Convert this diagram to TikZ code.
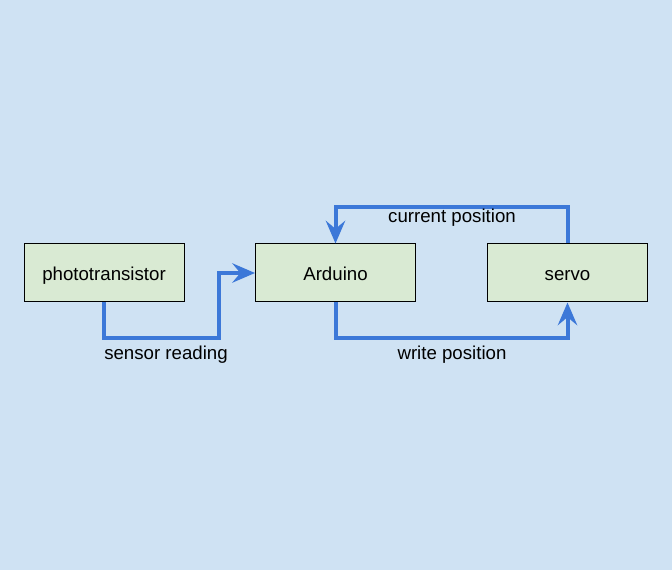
\documentclass[tikz,border=0pt]{standalone}
\usepackage{fontspec}
\setmainfont{Liberation Sans}
\usetikzlibrary{arrows.meta}
\definecolor{bgblue}{HTML}{CFE2F3}
\definecolor{boxgreen}{HTML}{D9EAD3}
\definecolor{flowblue}{HTML}{3C78D8}
\tikzset{
	block/.style={draw=black, line width=0.75pt, fill=boxgreen, minimum width=120pt, minimum height=43.5pt, inner sep=0pt, text height=12pt, text depth=0pt, font=\fontsize{14}{17}\selectfont},
	flow/.style={draw=flowblue, line width=3pt, -{Stealth[length=17pt, width=14.5pt, inset=6pt]}},
	lbl/.style={font=\fontsize{14}{17}\selectfont, inner sep=0pt, anchor=base}
}
\begin{document}
\begin{tikzpicture}[x=0.75pt, y=-0.75pt]
			%%%%% START %%%%%
			
			\fill[bgblue] (0, 0) rectangle (672, 570);
			\useasboundingbox (0, 0) rectangle (672, 570);
			
			\node[block] (photo) at (104, 273) {phototransistor};
			\node[block] (ard) at (335.5, 273) {Arduino};
			\node[block] (servo) at (567.5, 273) {servo};
			
			\coordinate (sr) at (219, 338);
			\coordinate (cp) at (335.5, 207);
			\coordinate (wp) at (335.5, 338);
			
			\draw[flow] (photo.south) |- (sr) |- (ard.west);
			\draw[flow] (servo.north) |- (cp) -- (ard.north);
			\draw[flow] (ard.south) -- (wp) -| (servo.south);
			
			\node[lbl] (srl) at (166, 359.5) {sensor reading};
			\node[lbl] (cpl) at (452, 223) {current position};
			\node[lbl] (wpl) at (452, 359.5) {write position};
			
			%%%%% END %%%%%
\end{tikzpicture}
\end{document}
